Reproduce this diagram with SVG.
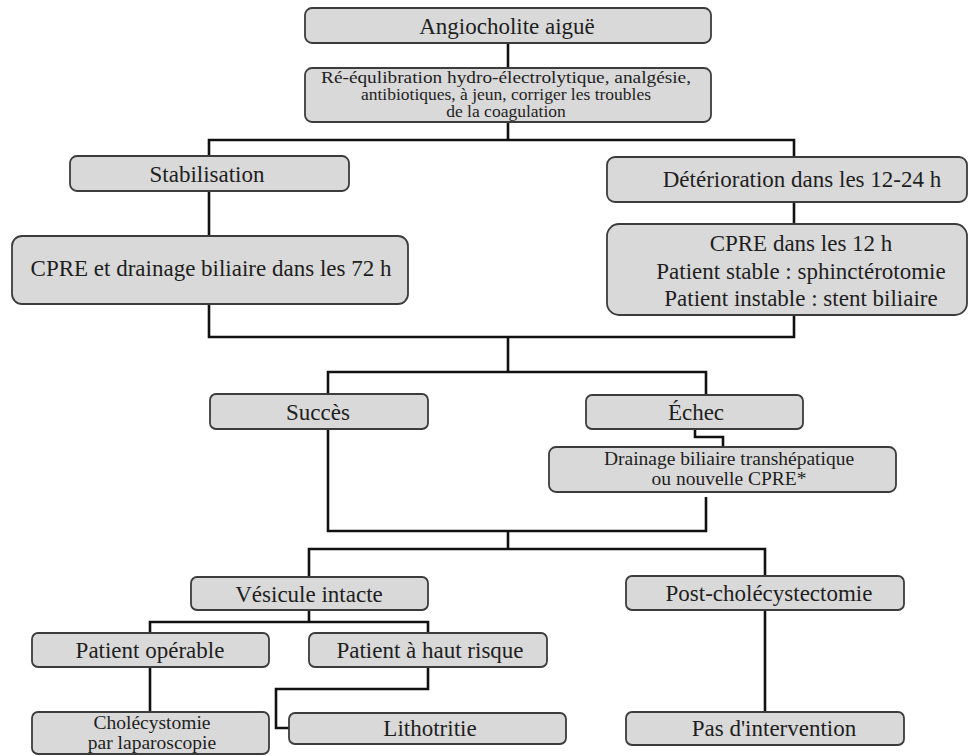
<svg xmlns="http://www.w3.org/2000/svg" width="973" height="756" viewBox="0 0 973 756">
<style>
.box{fill:#d9d9d9;stroke:#3c3c3c;stroke-width:1.8}
text{font-family:"Liberation Serif","DejaVu Serif","Times New Roman",serif;fill:#1e1e1e;text-anchor:middle}
.l{font-size:23px}
.s{font-size:19.5px}
.xs{font-size:17.5px}
.c{fill:none;stroke:#111;stroke-width:2.6;stroke-linejoin:miter;stroke-linecap:butt}
</style>
<rect width="973" height="756" fill="#fff"/>
<g id="connectors">
<path class="c" d="M508 43V68"/>
<path class="c" d="M508 122V140M209 156V140H794V157"/>
<path class="c" d="M209 191V236M794 202V224"/>
<path class="c" d="M209 304V337H794V315M508 337V372"/>
<path class="c" d="M328 394V372H706V395"/>
<path class="c" d="M695 429V437H723V447"/>
<path class="c" d="M328 429V531H706V497M508 531V549"/>
<path class="c" d="M309 577V549H765V576"/>
<path class="c" d="M309 610V622M150 633V622H428V633"/>
<path class="c" d="M150 667V712"/>
<path class="c" d="M428 667V689H276V728H289"/>
<path class="c" d="M765 610V712"/>
</g>
<g id="n1"><rect class="box" x="305" y="8" width="406" height="35" rx="7"/><text class="l" x="507" y="34">Angiocholite aiguë</text></g>
<g id="n2"><rect class="box" x="305" y="68" width="406" height="54" rx="7"/>
<text class="xs" x="506" y="83" textLength="370" lengthAdjust="spacingAndGlyphs">Ré-équlibration hydro-électrolytique, analgésie,</text>
<text class="xs" x="506" y="100">antibiotiques, à jeun, corriger les troubles</text>
<text class="xs" x="506" y="117">de la coagulation</text></g>
<g id="n3"><rect class="box" x="70" y="156" width="279" height="35" rx="7"/><text class="l" x="207" y="182">Stabilisation</text></g>
<g id="n4"><rect class="box" x="607" y="157" width="360" height="45" rx="8"/><text class="l" x="802" y="187">Détérioration dans les 12-24 h</text></g>
<g id="n5"><rect class="box" x="12" y="236" width="396" height="68" rx="10"/><text class="l" x="211" y="276">CPRE et drainage biliaire dans les 72 h</text></g>
<g id="n6"><rect class="box" x="607" y="224" width="360" height="91" rx="12"/>
<text class="l" x="801" y="251">CPRE dans les 12 h</text>
<text class="l" x="801" y="279">Patient stable : sphinctérotomie</text>
<text class="l" x="801" y="306">Patient instable : stent biliaire</text></g>
<g id="n7"><rect class="box" x="210" y="394" width="218" height="35" rx="6"/><text class="l" x="318" y="420">Succès</text></g>
<g id="n8"><rect class="box" x="586" y="395" width="217" height="34" rx="6"/><text class="l" x="696" y="420">Échec</text></g>
<g id="n9"><rect class="box" x="549" y="447" width="347" height="45" rx="7"/>
<text class="s" x="729" y="465">Drainage biliaire transhépatique</text>
<text class="s" x="729" y="485">ou nouvelle CPRE*</text></g>
<g id="n10"><rect class="box" x="191" y="577" width="237" height="33" rx="6"/><text class="l" x="309" y="602">Vésicule intacte</text></g>
<g id="n11"><rect class="box" x="626" y="576" width="278" height="34" rx="6"/><text class="l" x="769" y="601">Post-cholécystectomie</text></g>
<g id="n12"><rect class="box" x="32" y="633" width="237" height="34" rx="6"/><text class="l" x="150" y="658">Patient opérable</text></g>
<g id="n13"><rect class="box" x="309" y="633" width="238" height="34" rx="6"/><text class="l" x="430" y="658">Patient à haut risque</text></g>
<g id="n14"><rect class="box" x="32" y="712" width="237" height="42" rx="6"/>
<text class="s" x="152" y="729">Cholécystomie</text>
<text class="s" x="152" y="749">par laparoscopie</text></g>
<g id="n15"><rect class="box" x="289" y="713" width="277" height="31" rx="6"/><text class="l" x="430" y="736">Lithotritie</text></g>
<g id="n16"><rect class="box" x="626" y="712" width="278" height="33" rx="6"/><text class="l" x="774" y="736">Pas d'intervention</text></g>
</svg>
